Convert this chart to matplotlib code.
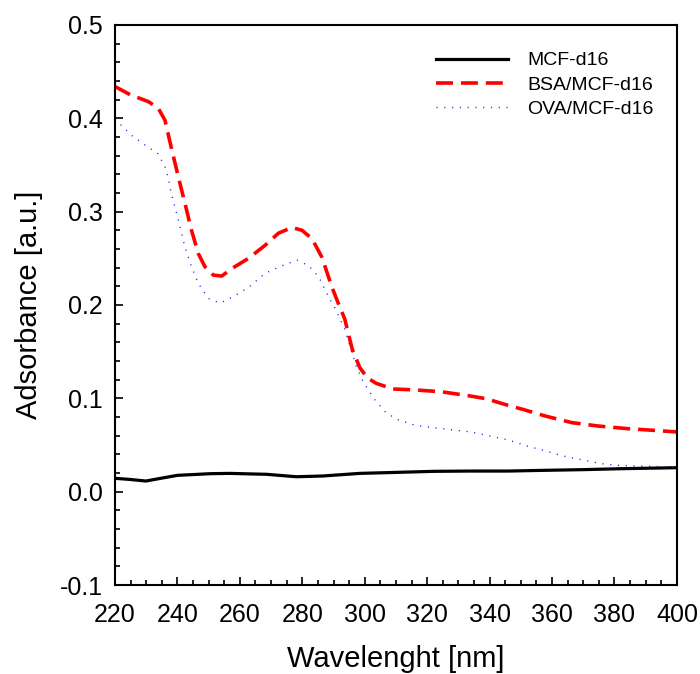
import matplotlib
matplotlib.use("Agg")
import matplotlib.pyplot as plt
from matplotlib.ticker import MultipleLocator

plt.rcParams['font.family'] = ['Liberation Sans', 'DejaVu Sans']

# MCF-d16
wl_mcf = [220, 224.5, 229.9, 234.1, 240, 250.7, 256.7, 268.6, 278.1, 286.5,
          298.4, 310.3, 322.2, 334.1, 346, 357.9, 369.8, 381.8, 400]
abs_mcf = [0.0143, 0.0132, 0.0114, 0.014, 0.0175, 0.0193, 0.0196, 0.0186, 0.016, 0.0168,
           0.0196, 0.0207, 0.0218, 0.0221, 0.0221, 0.0229, 0.0236, 0.0246, 0.0257]

# BSA/MCF-d16
wl_bsa = [220, 225, 230.6, 233.8, 236, 238, 240.3, 242.4, 244.5, 246.7, 248.8, 251.5,
          254.2, 257.4, 262.8, 268.1, 272.4, 276.7, 279.9, 283.1, 286.3, 289.5, 291.5,
          293.6, 296, 298.4, 300.8, 303.7, 309.1, 316.3, 324.6, 332.9, 338.9, 344.8,
          350.8, 357.9, 366.3, 374.6, 384.2, 391.3, 400]
abs_bsa = [0.434, 0.425, 0.418, 0.411, 0.398, 0.369, 0.337, 0.309, 0.28, 0.255, 0.241, 0.232,
           0.231, 0.239, 0.25, 0.264, 0.277, 0.283, 0.28, 0.271, 0.251, 0.219, 0.202,
           0.185, 0.1525, 0.133, 0.122, 0.116, 0.110, 0.109, 0.107, 0.103, 0.0996, 0.0936,
           0.088, 0.081, 0.074, 0.0704, 0.0675, 0.066, 0.064]

# OVA/MCF-d16
wl_ova = [220, 225.2, 230.6, 233.8, 236, 237, 238, 240.3, 242.4, 244.5, 246.7, 249.9,
          253.6, 257.4, 262.8, 268.1, 273.5, 278.3, 282.1, 285.3, 288.5, 290.6, 293.6,
          297.2, 299.6, 303.1, 306.7, 310.3, 316.3, 322.2, 329.4, 334.1, 340, 346, 352,
          357.9, 363.9, 369.8, 375.8, 381.8, 387.7, 393.7, 400]
abs_ova = [0.399, 0.382, 0.369, 0.362, 0.348, 0.337, 0.32, 0.291, 0.262, 0.241, 0.223, 0.207,
           0.202, 0.208, 0.219, 0.234, 0.242, 0.248, 0.242, 0.23, 0.208, 0.196, 0.174,
           0.135, 0.117, 0.099, 0.085, 0.0775, 0.071, 0.0686, 0.0657, 0.064, 0.0596, 0.0554, 0.049,
           0.0436, 0.038, 0.034, 0.030, 0.028, 0.0275, 0.027, 0.026]

labels = ["MCF-d16", "BSA/MCF-d16", "OVA/MCF-d16"]
x_ticks = [220, 240, 260, 280, 300, 320, 340, 360, 380, 400]
y_ticks = [-0.1, 0.0, 0.1, 0.2, 0.3, 0.4, 0.5]

fig = plt.figure(figsize=(7.0, 6.74), dpi=100)
ax = fig.add_axes([0.1643, 0.132, 0.967 - 0.1643, 0.963 - 0.132])

ax.plot(wl_mcf, abs_mcf, color='black', lw=2.3, label=labels[0])
ax.plot(wl_bsa, abs_bsa, color='#ff0000', lw=2.6, dashes=(4.7, 2.2), label=labels[1])
ax.plot(wl_ova, abs_ova, color='#2020ff', lw=1.0, dashes=(0.8, 4.8), label=labels[2])

ax.set_xlim(220, 400)
ax.set_ylim(-0.1, 0.5)
ax.set_xticks(x_ticks)
ax.set_yticks(y_ticks)
ax.set_xticklabels([str(v) for v in x_ticks])
ax.set_yticklabels(["-0.1", "0.0", "0.1", "0.2", "0.3", "0.4", "0.5"])
ax.xaxis.set_minor_locator(MultipleLocator(5))
ax.yaxis.set_minor_locator(MultipleLocator(0.02))
ax.tick_params(which='both', direction='in', top=False, right=False, width=1.2)
ax.tick_params(which='major', length=6, labelsize=18)
ax.tick_params(axis='x', which='major', pad=13)
ax.tick_params(axis='y', which='major', pad=9)
ax.tick_params(which='minor', length=3.5)
for s in ax.spines.values():
    s.set_linewidth(1.5)

ax.set_xlabel("Wavelenght [nm]", fontsize=21, labelpad=13)
ax.set_ylabel("Adsorbance [a.u.]", fontsize=21, labelpad=12)

ax.legend(loc='upper left', bbox_to_anchor=(0.557, 0.966), frameon=False, fontsize=14,
          handlelength=3.7, handletextpad=1.0, labelspacing=0.35, borderaxespad=0)

fig.savefig("out.png", dpi=100)
